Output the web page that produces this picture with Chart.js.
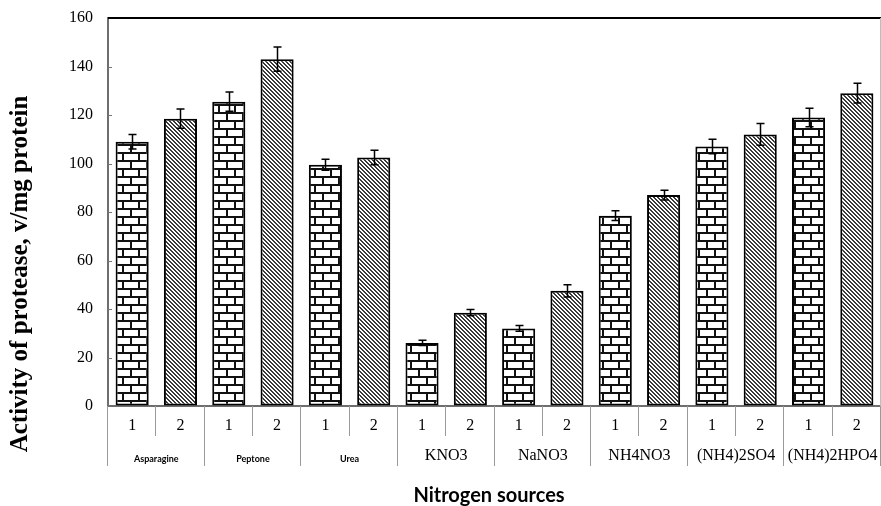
<!DOCTYPE html>
<html>
<head>
<meta charset="utf-8">
<script src="https://cdn.jsdelivr.net/npm/chart.js@4.4.1/dist/chart.umd.min.js"></script>
<style>
  html, body { margin: 0; padding: 0; background: #ffffff; }
  #wrap { width: 881px; height: 506px; position: relative; }
</style>
</head>
<body>
<div id="wrap"><canvas id="chart"></canvas></div>
<script>
// Nitrogen sources and the two samples measured for each
const sources = ['Asparagine', 'Peptone', 'Urea', 'KNO3', 'NaNO3', 'NH4NO3', '(NH4)2SO4', '(NH4)2HPO4'];
const sampleLabels = ['1', '2'];

// Protease activity (U/mg protein) and standard errors
const activity1 = [109, 125.5, 99.5, 26, 32, 78.5, 107, 119];
const activity2 = [118.5, 143, 102.5, 38.5, 47.5, 87, 112, 129];
const error1 = [3, 4, 2.3, 1.1, 1.2, 2, 3, 3.8];
const error2 = [4, 5, 3, 1.3, 2.5, 2, 4.5, 4.1];

// Value axis
const yMin = 0;
const yMax = 160;
const yStep = 20;

// Sans-serif is used for the first three source names, serif for the rest
const sansSources = ['Asparagine', 'Peptone', 'Urea'];

const SERIF = '"Liberation Serif", "Times New Roman", serif';
const SANS = 'Lato, "Open Sans", sans-serif';

// One slot per (source, sample) pair
const xLabels = sources.flatMap(() => sampleLabels);
const data1 = sources.flatMap((s, i) => [activity1[i], null]);
const data2 = sources.flatMap((s, i) => [null, activity2[i]]);
const err1 = sources.flatMap((s, i) => [error1[i], null]);
const err2 = sources.flatMap((s, i) => [null, error2[i]]);

// Brick fill for sample 1
function brickPattern() {
  const c = document.createElement('canvas');
  const w = 16, h = 16;
  c.width = w; c.height = h;
  const g = c.getContext('2d');
  g.fillStyle = '#ffffff';
  g.fillRect(0, 0, w, h);
  g.fillStyle = '#111111';
  g.fillRect(0, 0, w, 2);
  g.fillRect(0, 8, w, 2);
  g.fillRect(2, 0, 2, 8);
  g.fillRect(10, 8, 2, 8);
  return g.createPattern(c, 'repeat');
}

// Diagonal hatch fill for sample 2
function hatchPattern() {
  const c = document.createElement('canvas');
  const n = 4;
  c.width = n; c.height = n;
  const g = c.getContext('2d');
  g.fillStyle = '#ffffff';
  g.fillRect(0, 0, n, n);
  g.fillStyle = '#3a3a3a';
  for (let i = 0; i < n; i++) {
    g.fillRect(i, i, 1, 1);
    g.fillRect((i + 1) % n, i, 1, 1);
  }
  return g.createPattern(c, 'repeat');
}

// Error bars drawn from each bar's own value
const errorBars = {
  id: 'errorBars',
  afterDatasetsDraw(chart) {
    const ctx = chart.ctx;
    const y = chart.scales.y;
    const errs = [err1, err2];
    ctx.save();
    ctx.strokeStyle = '#000000';
    ctx.lineWidth = 1.5;
    chart.data.datasets.forEach((ds, di) => {
      const meta = chart.getDatasetMeta(di);
      meta.data.forEach((el, i) => {
        const v = ds.data[i];
        const e = errs[di][i];
        if (v == null || e == null) return;
        const x = Math.round(el.x) + 0.5;
        const yt = y.getPixelForValue(v + e);
        const yb = y.getPixelForValue(v - e);
        ctx.beginPath();
        ctx.moveTo(x, yt); ctx.lineTo(x, yb);
        ctx.moveTo(x - 4, yt); ctx.lineTo(x + 4, yt);
        ctx.moveTo(x - 4, yb); ctx.lineTo(x + 4, yb);
        ctx.stroke();
      });
    });
    ctx.restore();
  }
};

// Frame, category table under the axis and the axis titles
const decorations = {
  id: 'decorations',
  afterDraw(chart) {
    const ctx = chart.ctx;
    const a = chart.chartArea;
    const x = chart.scales.x;
    const n = xLabels.length;
    const half = (a.right - a.left) / n / 2;
    ctx.save();

    // top and right frame
    ctx.strokeStyle = '#000000';
    ctx.lineWidth = 2;
    ctx.beginPath();
    ctx.moveTo(a.left, a.top);
    ctx.lineTo(chart.width, a.top);
    ctx.stroke();
    ctx.strokeStyle = '#bdbdbd';
    ctx.lineWidth = 1;
    ctx.beginPath();
    ctx.moveTo(a.right - 0.5, a.top);
    ctx.lineTo(a.right - 0.5, a.bottom);
    ctx.stroke();

    // small inward ticks on the value axis
    const y = chart.scales.y;
    ctx.strokeStyle = '#777777';
    ctx.lineWidth = 1;
    for (let v = yMin + yStep; v < yMax; v += yStep) {
      const py = Math.round(y.getPixelForValue(v)) + 0.5;
      ctx.beginPath();
      ctx.moveTo(a.left, py); ctx.lineTo(a.left + 4, py);
      ctx.stroke();
    }

    // cell separators below the axis
    ctx.strokeStyle = '#9a9a9a';
    for (let i = 0; i <= n; i++) {
      const px = Math.round(i < n ? x.getPixelForValue(i) - half : a.right) - 0.5;
      const len = i % 2 === 0 ? 60 : 30;
      ctx.beginPath();
      ctx.moveTo(px, a.bottom);
      ctx.lineTo(px, a.bottom + len);
      ctx.stroke();
    }

    // nitrogen source names
    ctx.fillStyle = '#000000';
    ctx.textAlign = 'center';
    ctx.textBaseline = 'middle';
    sources.forEach((s, gi) => {
      const cx = (x.getPixelForValue(gi * 2) + x.getPixelForValue(gi * 2 + 1)) / 2;
      if (sansSources.includes(s)) {
        ctx.font = 'bold 9px ' + SANS;
        ctx.fillText(s, cx, a.bottom + 53);
      } else {
        ctx.font = '16px ' + SERIF;
        ctx.fillText(s, cx, a.bottom + 50);
      }
    });

    // category-axis title
    ctx.font = 'bold 20px ' + SANS;
    ctx.fillText('Nitrogen sources', 489, 496);

    // value-axis title
    ctx.translate(21, 274);
    ctx.rotate(-Math.PI / 2);
    ctx.font = 'bold 25px ' + SERIF;
    ctx.fillText('Activity of protease, v/mg protein', 0, 0);
    ctx.restore();
  }
};

new Chart(document.getElementById('chart'), {
  type: 'bar',
  data: {
    labels: xLabels,
    datasets: [
      {
        label: '1',
        data: data1,
        backgroundColor: brickPattern(),
        borderColor: '#000000',
        borderWidth: 2,
        borderSkipped: false
      },
      {
        label: '2',
        data: data2,
        backgroundColor: hatchPattern(),
        borderColor: '#000000',
        borderWidth: 2,
        borderSkipped: false
      }
    ]
  },
  options: {
    responsive: true,
    maintainAspectRatio: false,
    animation: false,
    devicePixelRatio: 1,
    layout: { padding: { top: 18, right: -1, left: 0, bottom: 0 } },
    datasets: {
      bar: { skipNull: true, categoryPercentage: 1, barPercentage: 0.685 }
    },
    plugins: {
      legend: { display: false },
      tooltip: { enabled: false }
    },
    scales: {
      x: {
        grid: { drawOnChartArea: false, drawTicks: false },
        border: { display: true, color: '#6e6e6e', width: 2 },
        ticks: {
          color: '#000000',
          font: { family: SERIF, size: 16 },
          padding: 10,
          maxRotation: 0,
          autoSkip: false
        },
        afterFit(scale) { scale.height = 100; }
      },
      y: {
        min: yMin,
        max: yMax,
        grid: { drawOnChartArea: false, drawTicks: false },
        border: { display: true, color: '#6e6e6e', width: 2 },
        ticks: {
          stepSize: yStep,
          color: '#000000',
          font: { family: SERIF, size: 16 },
          padding: 15
        },
        afterFit(scale) {
          scale.width = 108;
          scale.paddingTop = 0;
          scale.paddingBottom = 0;
        }
      }
    }
  },
  plugins: [errorBars, decorations]
});
</script>
</body>
</html>
